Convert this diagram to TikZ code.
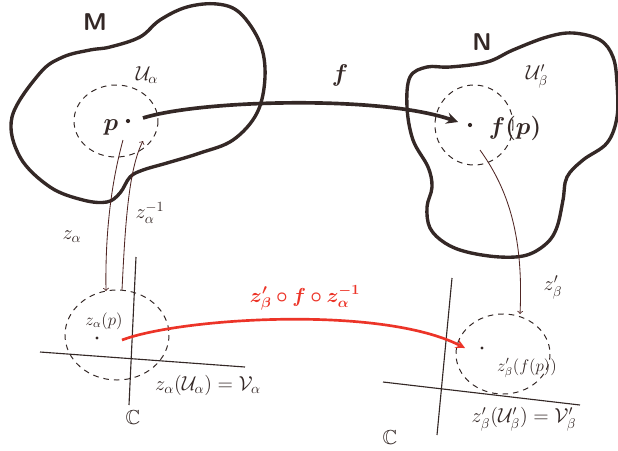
\documentclass[tikz,border=0pt]{standalone}
\usepackage{amsmath,amssymb,amsfonts}
\usepackage{bm}
\usepackage{xcolor}
\usepackage{tikz}
\usetikzlibrary{arrows}

\definecolor{ink}{RGB}{52,40,38}
\definecolor{pen}{RGB}{80,38,36}
\definecolor{redink}{RGB}{236,52,40}

\begin{document}
\begin{tikzpicture}[
  x=0.025cm, y=-0.025cm,
  blob/.style={draw=ink, line width=2.4pt},
  chart/.style={draw=ink, line width=0.7pt, dash pattern=on 4pt off 3.5pt},
  axis/.style={draw=ink, line width=0.8pt},
  map/.style={->, >=to, draw=pen, line width=0.6pt},
  bigmap/.style={-stealth, draw=ink, line width=2.6pt},
  redmap/.style={-stealth, draw=redink, line width=1.9pt},
  lbl/.style={text=ink, inner sep=1pt},
  pt/.style={circle, fill=ink, inner sep=0pt, minimum size=3pt}
]
\useasboundingbox (0,0) rectangle (618,450);

% manifolds
\draw[blob] plot[smooth cycle, tension=0.6] coordinates {
  (40,73) (12,117) (20,157) (50,187) (83,200) (107,202) (120,193)
  (130,177) (143,170) (167,163) (200,153) (233,140) (257,113) (265,77)
  (260,43) (240,13) (217,4) (187,7) (160,20) (140,37) (110,47) (90,50) (63,57)};
\draw[blob] plot[smooth cycle, tension=0.6] coordinates {
  (427,67) (410,77) (407,107) (413,140) (428,167) (432,187) (427,207)
  (430,228) (445,243) (467,252) (500,257) (527,255) (547,243) (557,227)
  (563,200) (567,177) (583,160) (607,143) (617,117) (617,83) (613,57)
  (600,40) (573,33) (547,37) (513,50) (487,62) (450,67)};

% charts
\draw[chart] (116,121) ellipse [x radius=42, y radius=36];
\draw[chart] (474,125) ellipse [x radius=39, y radius=40];
\draw[chart] (117,335) ellipse [x radius=52, y radius=45];
\draw[chart] (503,354) ellipse [x radius=47, y radius=40];

% complex planes
\draw[axis] (136,257) -- (129,405);
\draw[axis] (40,352) -- (245,367);
\draw[axis] (452,278) -- (437,435);
\draw[axis] (383,382) -- (580,405);

% labels
\node[lbl, font=\LARGE\bfseries\sffamily] (M) at (95,22) {M};
\node[lbl, font=\LARGE\bfseries\sffamily] (N) at (482,42) {N};
\node[lbl, font=\Large] (Ua) at (147,75) {$\mathcal{U}_\alpha$};
\node[lbl, font=\Large] (Ub) at (537,76) {$\mathcal{U}'_\beta$};
\node[lbl, font=\LARGE] (p) at (111,127) {$\bm{p}$};
\node[pt] (pdot) at (128,121) {};
\node[lbl, font=\LARGE] (fp) at (515,128) {$\bm{f(p)}$};
\node[pt] (fpdot) at (470,125) {};
\node[lbl, font=\LARGE] (f) at (340,75) {$\bm{f}$};

\node[lbl, font=\Large] (za) at (72,237) {$z_\alpha$};
\node[lbl, font=\Large] (zainv) at (150,213) {$z_\alpha^{-1}$};
\node[lbl, font=\Large] (zb) at (553,287) {$z'_\beta$};
\node[lbl, font=\Large, text=redink] (comp) at (305,298)
  {$\bm{z'_\beta\circ f\circ z_\alpha^{-1}}$};

\node[lbl, font=\large] (zap) at (104,321) {$z_\alpha(p)$};
\node[pt, minimum size=2.2pt] (zadot) at (97,338) {};
\node[lbl, font=\Large] (Va) at (208,385) {$z_\alpha(\mathcal{U}_\alpha)=\mathcal{V}_\alpha$};
\node[lbl, font=\Large] (C1) at (133,418) {$\mathbb{C}$};

\node[pt, minimum size=2.2pt] (zbdot) at (482,348) {};
\node[lbl, font=\large] (zbfp) at (527,368) {$z'_\beta(f(p))$};
\node[lbl, font=\Large] (Vb) at (524,419) {$z'_\beta(\mathcal{U}'_\beta)=\mathcal{V}'_\beta$};
\node[lbl, font=\Large] (C2) at (390,438) {$\mathbb{C}$};

% connector ends
\coordinate (fstart) at (143,118);
\coordinate (fend) at (458,122);
\coordinate (zatop) at (123,140);
\coordinate (zabot) at (106,291);
\coordinate (zaibot) at (122,290);
\coordinate (zaitop) at (143,141);
\coordinate (zbtop) at (480,150);
\coordinate (zbbot) at (520,314);
\coordinate (rstart) at (122,340);
\coordinate (rend) at (465,348);

% maps
\draw[bigmap] (fstart) .. controls (200,100) and (380,95) .. (fend);
\draw[map] (zatop) .. controls (112,180) and (105,230) .. (zabot);
\draw[map] (zaibot) .. controls (125,230) and (128,170) .. (zaitop);
\draw[map] (zbtop) .. controls (505,185) and (524,230) .. (zbbot);
\draw[redmap] (rstart) .. controls (180,318) and (380,305) .. (rend);

\end{tikzpicture}
\end{document}
